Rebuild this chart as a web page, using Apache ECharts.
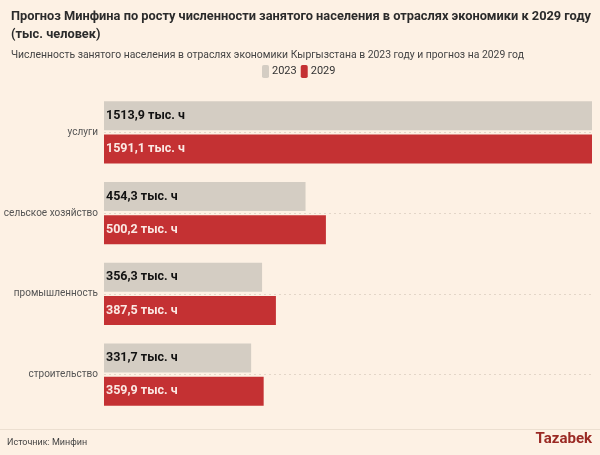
<!DOCTYPE html>
<html><head><meta charset="utf-8">
<script src="https://cdn.jsdelivr.net/npm/echarts@6/dist/echarts.min.js"></script>
<style>html,body{margin:0;padding:0;background:#fdf1e4;}#c{width:600px;height:455px;}</style>
</head><body><div id="c"></div>
<script>
const categories = ['услуги', 'сельское хозяйство', 'промышленность', 'строительство'];
const values2023 = [1513.9, 454.3, 356.3, 331.7];
const values2029 = [1591.1, 500.2, 387.5, 359.9];
const seriesNames = ['2023', '2029'];

const FONT = 'Roboto';
const fmt = v => v.toFixed(1).replace('.', ',') + ' тыс. ч';

const chart = echarts.init(document.getElementById('c'), null, {renderer: 'canvas'});
chart.setOption({
  backgroundColor: '#fdf1e4',
  animation: false,
  textStyle: {fontFamily: FONT},
  title: {
    text: 'Прогноз Минфина по росту численности занятого населения в отраслях экономики к 2029 году\n(тыс. человек)',
    left: 6, top: 3,
    textStyle: {fontFamily: FONT, fontSize: 12.8, fontWeight: 'bold', color: '#2b2b2b', lineHeight: 18},
    subtext: 'Численность занятого населения в отраслях экономики Кыргызстана в 2023 году и прогноз на 2029 год',
    subtextStyle: {fontFamily: FONT, fontSize: 10.4, color: '#444', lineHeight: 13},
    itemGap: 5
  },
  legend: {
    left: 257, top: 60,
    itemWidth: 7, itemHeight: 13, itemGap: 4,
    icon: 'roundRect',
    textStyle: {fontFamily: FONT, fontSize: 11, color: '#333', padding: [0, 0, 0, -2]},
    data: seriesNames
  },
  grid: {left: 104, right: 8, top: 92, bottom: 40, containLabel: false, outerBoundsMode: 'none'},
  xAxis: {
    type: 'value', min: 0, max: 1100, show: false
  },
  yAxis: {
    type: 'category', data: categories, inverse: true,
    axisLine: {show: false}, axisTick: {show: false},
    axisLabel: {fontFamily: FONT, fontSize: 10, color: '#555', margin: 6}
  },
  series: [
    {
      name: 'guides', type: 'line', data: [], silent: true, z: 1,
      markLine: {
        silent: true, symbol: 'none', label: {show: false}, z: 1,
        lineStyle: {type: [2, 3], color: '#e3d6c8', width: 1},
        data: categories.map(c => ({yAxis: c}))
      }
    },
    {
      name: seriesNames[0], type: 'bar', data: values2023,
      barWidth: 29, barGap: '14%',
      itemStyle: {color: '#d4cdc3'},
      label: {show: true, position: 'insideLeft', distance: 2, formatter: p => fmt(p.value),
        fontFamily: FONT, fontSize: 12.5, fontWeight: 'bold', color: '#111'},
      z: 3
    },
    {
      name: seriesNames[1], type: 'bar', data: values2029,
      barWidth: 29,
      itemStyle: {color: '#c43133'},
      label: {show: true, position: 'insideLeft', distance: 2, formatter: p => fmt(p.value),
        fontFamily: FONT, fontSize: 12.5, fontWeight: 'bold', color: '#fbe9e4'},
      z: 3
    }
  ],
  graphic: [
    {type: 'line', shape: {x1: 0, y1: 429.5, x2: 600, y2: 429.5}, style: {stroke: '#ecdfd0', lineWidth: 1}},
    {type: 'text', left: 7, top: 438, style: {text: 'Источник: Минфин', font: '9px Roboto', fill: '#444'}},
    {type: 'text', right: 8, top: 432, style: {text: 'Tazabek', font: 'bold 15px Roboto', fill: '#9a2a24'}}
  ]
});
</script>
</body></html>
